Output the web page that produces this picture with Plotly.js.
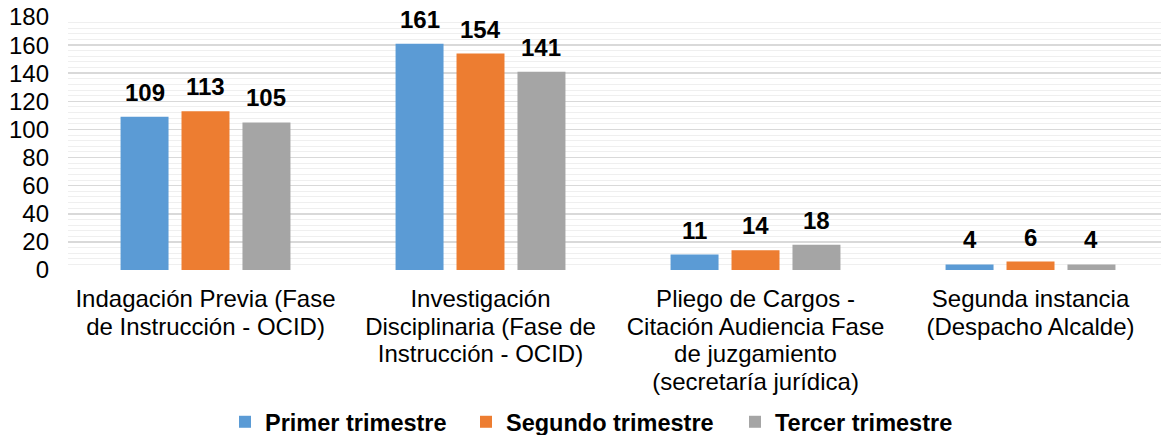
<!DOCTYPE html>
<html>
<head>
<meta charset="utf-8">
<script src="https://cdn.plot.ly/plotly-3.0.1.min.js"></script>
<style>html,body{margin:0;padding:0;background:#fff;}#chart{width:1161px;height:435px;}</style>
</head>
<body>
<div id="chart"></div>
<script>
const categories = [
  "Indagación Previa (Fase<br>de Instrucción - OCID)",
  "Investigación<br>Disciplinaria (Fase de<br>Instrucción - OCID)",
  "Pliego de Cargos -<br>Citación Audiencia Fase<br>de juzgamiento<br>(secretaría jurídica)",
  "Segunda instancia<br>(Despacho Alcalde)"
];
const seriesNames = ["Primer trimestre", "Segundo trimestre", "Tercer trimestre"];
const primer = [109, 161, 11, 4];
const segundo = [113, 154, 14, 6];
const tercer = [105, 141, 18, 4];
const colors = ["#5B9BD5", "#ED7D31", "#A5A5A5"];
const yTicks = [0, 20, 40, 60, 80, 100, 120, 140, 160, 180];

const allSeries = [primer, segundo, tercer];
const bargap = 0.335;
const bargroupgap = 0.213;
const font = "Arial, 'Liberation Sans', sans-serif";
const legendIds = ["legend", "legend2", "legend3"];
const legendX = [225, 466, 735];

const traces = allSeries.map((vals, i) => ({
  type: "bar",
  name: seriesNames[i],
  x: categories,
  y: vals,
  marker: { color: colors[i] },
  legend: legendIds[i],
  hoverinfo: "none"
}));

const annotations = [];
const slot = (1 - bargap) / allSeries.length;
allSeries.forEach((vals, si) => {
  vals.forEach((v, ci) => {
    annotations.push({
      x: ci + (si - (allSeries.length - 1) / 2) * slot,
      y: v,
      xref: "x", yref: "y",
      text: "<b>" + v + "</b>",
      showarrow: false,
      yanchor: "bottom",
      yshift: 9,
      font: { family: font, size: 24, color: "#000" }
    });
  });
});

const layout = {
  width: 1161,
  height: 435,
  margin: { l: 68, r: 0, t: 17, b: 165 },
  paper_bgcolor: "#fff",
  plot_bgcolor: "#fff",
  font: { family: font, color: "#000", size: 24 },
  barmode: "group",
  bargap: bargap,
  bargroupgap: bargroupgap,
  xaxis: {
    type: "category",
    range: [-0.5, 3.4745],
    showgrid: false,
    zeroline: false,
    showline: false,
    ticks: "",
    ticklabelstandoff: 12,
    tickfont: { family: font, size: 24, color: "#000" }
  },
  yaxis: {
    range: [0, 180],
    tickvals: yTicks,
    ticktext: yTicks.map(String),
    showgrid: true,
    gridcolor: "#d9d9d9",
    gridwidth: 1.5,
    zeroline: false,
    showline: false,
    ticks: "",
    ticklabelstandoff: 18,
    tickfont: { family: font, size: 24, color: "#000" },
    minor: { dtick: 4, showgrid: true, gridcolor: "#efefef", gridwidth: 1 }
  },
  showlegend: true,
  annotations: annotations
};

legendIds.forEach((id, i) => {
  layout[id] = {
    orientation: "h",
    xref: "container",
    yref: "container",
    x: legendX[i] / 1161,
    xanchor: "left",
    y: 1 - 422 / 435,
    yanchor: "middle",
    bgcolor: "rgba(0,0,0,0)",
    font: { family: font, size: 23.5, color: "#000", weight: "bold" },
    itemwidth: 30
  };
});

Plotly.newPlot("chart", traces, layout, { staticPlot: true, displayModeBar: false }).then(() => {
  // tighter line spacing for the multi-line category labels (as in the original)
  document.querySelectorAll(".xtick text tspan.line").forEach(t => {
    const dy = t.getAttribute("dy");
    if (dy && dy.endsWith("em")) {
      t.setAttribute("dy", (parseFloat(dy) * 1.15 / 1.3) + "em");
    }
  });
});
</script>
</body>
</html>
